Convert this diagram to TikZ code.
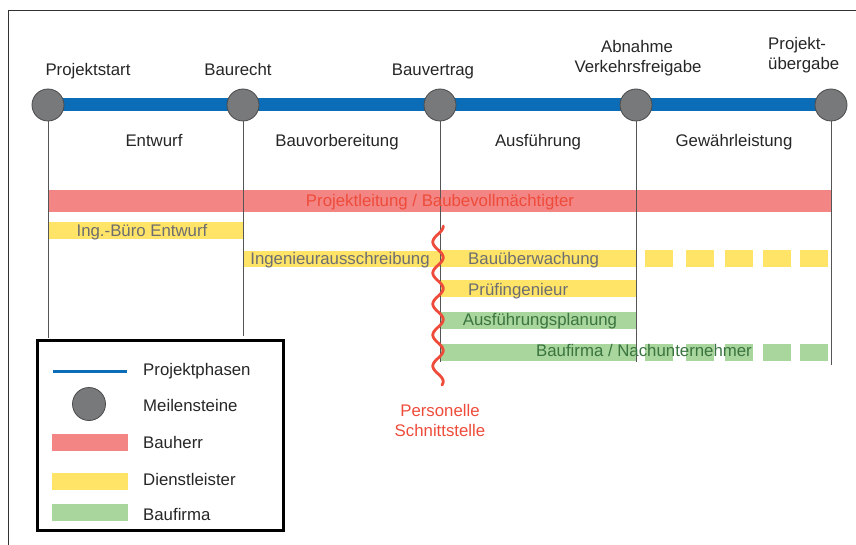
\documentclass[tikz,border=0pt]{standalone}
\usepackage{fontspec}
\setmainfont{Liberation Sans}
\definecolor{phaseblue}{HTML}{0B6DB7}
\definecolor{msgray}{HTML}{77797B}
\definecolor{msedge}{HTML}{4A4A4A}
\definecolor{barred}{HTML}{F38684}
\definecolor{txtred}{HTML}{EE4B3A}
\definecolor{baryellow}{HTML}{FFE467}
\definecolor{bargreen}{HTML}{A9D69C}
\definecolor{txtgray}{HTML}{6D6E71}
\definecolor{txtgreen}{HTML}{3A7440}
\definecolor{vline}{HTML}{555555}
\pgfdeclarelayer{bg}
\pgfsetlayers{bg,main}
\begin{document}
\begin{tikzpicture}[x=1pt,y=-1pt,
  lbl/.style={inner sep=0pt,anchor=base,font=\fontsize{16.8}{20}\selectfont,text=black!85},
  lblw/.style={lbl,anchor=base west},
  milestone/.style={circle,fill=msgray,draw=msedge,line width=0.8pt,minimum size=32pt,inner sep=0pt},
  gridline/.style={draw=vline,line width=0.9pt},
]
\useasboundingbox (0,0) rectangle (856,545);
% frame
\draw[line width=1pt,black!80] (8,545) -- (8,11) -- (856,11);

% bars
\fill[barred] (48,190) rectangle (831,212);
\fill[baryellow] (48,222) rectangle (243,239);
\fill[baryellow] (244,251) rectangle (440,267);
\fill[baryellow] (440,250) rectangle (636,267);
\foreach \a in {645,686,725,763,800}{
  \fill[baryellow] (\a,250) rectangle ({\a+28},267);
  \fill[bargreen] (\a,344) rectangle ({\a+28},361);
}
\fill[baryellow] (440,280) rectangle (636,297);
\fill[bargreen] (440,312) rectangle (636,329);
\fill[bargreen] (440,344) rectangle (636,361);

% milestones
\node[milestone] (m1) at (48,105) {};
\node[milestone] (m2) at (243,105) {};
\node[milestone] (m3) at (440,105) {};
\node[milestone] (m4) at (636,105) {};
\node[milestone] (m5) at (831,105) {};
\coordinate (e1) at (48,338);
\coordinate (e2) at (243,336);
\coordinate (e3) at (440,362);
\coordinate (e4) at (636,362);
\coordinate (e5) at (831,365);
\foreach \i in {1,...,5}{\draw[gridline] (m\i.south) -- (e\i);}
\begin{pgfonlayer}{bg}
\draw[phaseblue,line width=13pt] (m1.center) -- (m5.center);
\end{pgfonlayer}

% milestone labels
\node[lbl] (t1) at (88,76) {Projektstart};
\node[lbl] (t2) at (238,76) {Baurecht};
\node[lbl] (t3) at (433,76) {Bauvertrag};
\node[lbl] (t4a) at (637,52.5) {Abnahme};
\node[lbl] (t4b) at (638,73) {Verkehrsfreigabe};
\node[lblw] (t5a) at (768,49.5) {Projekt-};
\node[lblw] (t5b) at (768,69.5) {übergabe};

% phase labels
\node[lbl] (p1) at (154,147) {Entwurf};
\node[lbl] (p2) at (337,147) {Bauvorbereitung};
\node[lbl] (p3) at (538,147) {Ausführung};
\node[lbl] (p4) at (734,147) {Gewährleistung};

% bar labels
\node[lbl,text=txtred] (b1) at (440,207) {Projektleitung / Baubevollmächtigter};
\node[lbl,text=txtgray] (b2) at (142,236.5) {Ing.-Büro Entwurf};
\node[lbl,text=txtgray] (b3) at (340,265) {Ingenieurausschreibung};
\node[lblw,text=txtgray] (b4) at (468,265) {Bauüberwachung};
\node[lblw,text=txtgray] (b5) at (468,295) {Prüfingenieur};
\node[lbl,text=txtgreen] (b6) at (540,325.5) {Ausführungsplanung};
\node[lbl,text=txtgreen] (b7) at (644,356.5) {Baufirma / Nachunternehmer};

% wavy interface line
\draw[txtred,line width=2.8pt,line cap=round]
  plot[domain=-16:143,samples=160,smooth] ({438-5.2*cos(11.6129*\x)},{242+\x});
\node[lbl,text=txtred] (s1) at (440,416.5) {Personelle};
\node[lbl,text=txtred] (s2) at (440,436.5) {Schnittstelle};

% legend
\node[draw=black,line width=2.5pt,minimum width=246pt,minimum height=190pt,inner sep=0pt,anchor=north west] (leg) at (36,339) {};
\coordinate (l1a) at (53,371);
\coordinate (l1b) at (127,371);
\draw[phaseblue,line width=3pt] (l1a) -- (l1b);
\node[milestone,minimum size=33pt] (lm) at (89,404) {};
\fill[barred] (52,434) rectangle (128,451);
\fill[baryellow] (52,473) rectangle (128,490);
\fill[bargreen] (52,504) rectangle (128,521);
\node[lblw] (k1) at (143,375) {Projektphasen};
\node[lblw] (k2) at (143,411.5) {Meilensteine};
\node[lblw] (k3) at (143,448) {Bauherr};
\node[lblw] (k4) at (143,485) {Dienstleister};
\node[lblw] (k5) at (143,520.5) {Baufirma};
\end{tikzpicture}
\end{document}
